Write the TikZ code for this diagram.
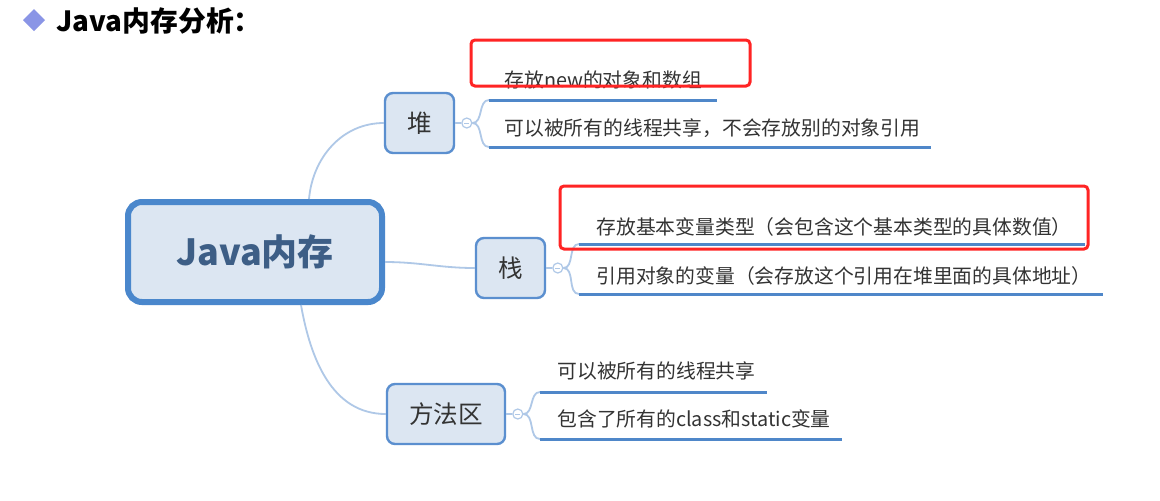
\documentclass[tikz,border=0pt]{standalone}
\usepackage{fontspec}
\setmainfont{Noto Sans CJK SC}
\usepackage{tikz}
\usetikzlibrary{positioning}

\definecolor{boxfill}{HTML}{DCE6F2}
\definecolor{boxline}{HTML}{5B8FCF}
\definecolor{mainline}{HTML}{4A87CC}
\definecolor{branchblue}{HTML}{AFC8E7}
\definecolor{leafline}{HTML}{4F87C9}
\definecolor{maintext}{HTML}{3D5E86}
\definecolor{leaftext}{HTML}{333333}
\definecolor{markred}{HTML}{FF2424}
\definecolor{titlemark}{HTML}{8A95E6}

\tikzset{
  mainbox/.style={draw=mainline, line width=3pt, rectangle, rounded corners=7pt, fill=boxfill,
    minimum width=127pt, minimum height=50pt, text=maintext, font=\fontsize{18}{20}\selectfont\bfseries},
  areabox/.style={draw=boxline, line width=1.2pt, rectangle, rounded corners=4pt, fill=boxfill,
    minimum height=30pt, text=leaftext, font=\fontsize{12.3}{14}\selectfont},
  fold/.style={circle, draw=branchblue, line width=0.6pt, fill=white, minimum size=5pt, inner sep=0pt,
    path picture={\draw[branchblue, line width=0.5pt] ([xshift=-1.3pt]path picture bounding box.center) -- ([xshift=1.3pt]path picture bounding box.center);}},
  branch/.style={draw=branchblue, line width=0.9pt},
  leaf/.style={anchor=west, inner sep=0pt, text=leaftext, font=\fontsize{9.9}{11}\selectfont},
  underline/.style={draw=leafline, line width=1.5pt},
  redmark/.style={draw=markred, line width=1.5pt, rounded corners=2pt}
}

\begin{document}
\begin{tikzpicture}[x=0.5pt, y=-0.5pt]
\useasboundingbox[fill=white] (0,0) rectangle (1160,500);

% title
\fill[titlemark] (34,9) -- (45,20) -- (34,31) -- (23,20) -- cycle;
\node[anchor=west, inner sep=0pt, font=\fontsize{13.9}{16}\selectfont\bfseries] (title) at (56,21) {Java内存分析：};

% main node and the three areas
\node[mainbox] (java) at (255,252) {Java内存};
\node[areabox, minimum width=34.5pt] (heap) at (419.5,123) {堆};
\node[areabox, minimum width=34.5pt] (stack) at (510.5,268) {栈};
\node[areabox, minimum width=59pt] (method) at (446,414) {方法区};

\draw[branch] ([xshift=27pt]java.north) to[out=85, in=180] (heap.west);
\draw[branch] ([yshift=-5pt]java.east) to[out=0, in=180] (stack.west);
\draw[branch] ([xshift=23pt]java.south) to[out=-80, in=180] (method.west);

\node[fold, right=3pt of heap] (heapfold) {};
\node[fold, right=3pt of stack] (stackfold) {};
\node[fold, right=3pt of method] (methodfold) {};
\draw[branch] (heap.east) -- (heapfold.west);
\draw[branch] (stack.east) -- (stackfold.west);
\draw[branch] (method.east) -- (methodfold.west);

% heap
\coordinate (heapA) at (489,100);
\coordinate (heapB) at (489,147);
\draw[branch] (heapfold.east) to[out=0, in=180] (heapA);
\draw[branch] (heapfold.east) to[out=0, in=180] (heapB);
\draw[underline] (heapA) -- +(228,0);
\draw[underline] (heapB) -- +(442,0);
\node[leaf] (heaptextA) at (504,80) {存放new的对象和数组};
\node[leaf] (heaptextB) at (504,128) {可以被所有的线程共享，不会存放别的对象引用};

% stack
\coordinate (stackA) at (579,244);
\coordinate (stackB) at (579,294);
\draw[branch] (stackfold.east) to[out=0, in=180] (stackA);
\draw[branch] (stackfold.east) to[out=0, in=180] (stackB);
\draw[underline] (stackA) -- +(506,0);
\draw[underline] (stackB) -- +(524,0);
\node[leaf] (stacktextA) at (596,227) {存放基本变量类型（会包含这个基本类型的具体数值）};
\node[leaf] (stacktextB) at (596,276) {引用对象的变量（会存放这个引用在堆里面的具体地址）};

% method area
\coordinate (methodA) at (540,392);
\coordinate (methodB) at (540,439);
\draw[branch] (methodfold.east) to[out=0, in=180] (methodA);
\draw[branch] (methodfold.east) to[out=0, in=180] (methodB);
\draw[underline] (methodA) -- +(227,0);
\draw[underline] (methodB) -- +(302,0);
\node[leaf] (methodtextA) at (557,371) {可以被所有的线程共享};
\node[leaf] (methodtextB) at (557,419) {包含了所有的class和static变量};

% red marks
\draw[redmark] (471,40) rectangle (750,86);
\draw[redmark] (560,186) rectangle (1088,249);
\end{tikzpicture}
\end{document}
